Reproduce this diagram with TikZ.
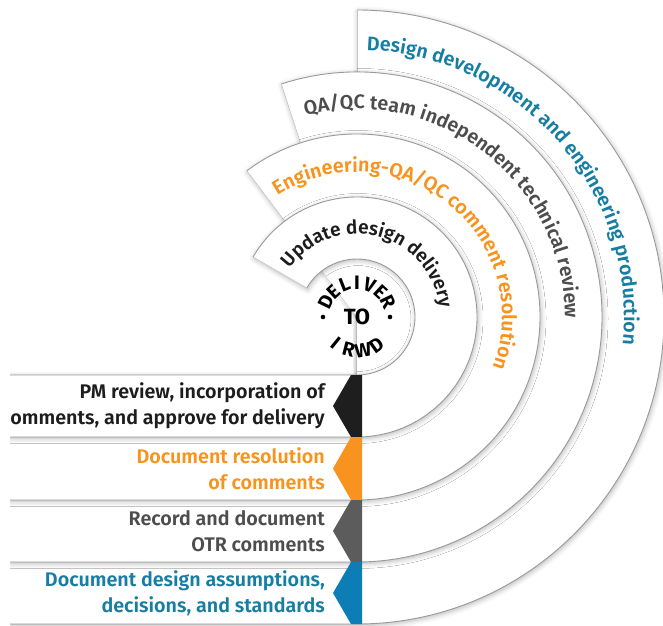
\documentclass[tikz,border=0pt]{standalone}
\usepackage{fontspec}
\setmainfont{Fira Sans}
\newfontfamily\medfont{Fira Sans SemiBold}
\newfontfamily\boldfont{Fira Sans Bold}
\usetikzlibrary{calc,decorations.text,shadows.blur}
\definecolor{dtblue}{HTML}{177EA3}
\definecolor{qagrey}{HTML}{4D4D4D}
\definecolor{engorange}{HTML}{F7931E}
\definecolor{updblack}{HTML}{1D1D1D}
\definecolor{chevblue}{HTML}{0D7DB5}
\definecolor{chevgrey}{HTML}{5C5C5C}
\definecolor{chevblack}{HTML}{1E1E1E}
\definecolor{linegrey}{HTML}{9A9A9A}
\definecolor{edgegrey}{HTML}{C4C4C4}
\tikzset{
  ringfill/.style={fill=white, blur shadow={shadow xshift=1pt, shadow yshift=-1.5pt, shadow blur radius=5pt, shadow opacity=30}},
  ringline/.style={draw=linegrey, line width=0.9pt},
  edgeline/.style={draw=edgegrey, line width=0.6pt},
  rowtext/.style={font=\medfont\fontsize{19.7}{26}\selectfont, align=right, anchor=east, inner sep=0pt},
  dlv/.style={font=\boldfont\fontsize{19.5}{19.5}\selectfont, text=black, inner sep=0pt},
}
\begin{document}
\begin{tikzpicture}[x=1pt,y=1pt]
\useasboundingbox (0,0) rectangle (663,625);
\coordinate (C) at (357,308);
\begin{scope}
\clip (10,0) rectangle (663,625);
% ring 4
\path[ringfill] (C) -- ($(C)+(90:307)$) arc[start angle=90,end angle=-90,radius=307] -- (10,1) -- (10,63) -- (357,63) -- cycle;
\draw[ringline] ($(C)+(90:307)$) arc[start angle=90,end angle=-90,radius=307] -- (10,1);
\draw[edgeline] ($(C)+(90:245)$) -- ($(C)+(90:307)$);
% ring 3
\path[ringfill] (C) -- ($(C)+(108:245)$) arc[start angle=108,end angle=-90,radius=245] -- (10,63) -- (10,125) -- (357,125) -- cycle;
\draw[ringline] ($(C)+(108:245)$) arc[start angle=108,end angle=-90,radius=245] -- (10,63);
\draw[edgeline] ($(C)+(108:183)$) -- ($(C)+(108:245)$);
% ring 2
\path[ringfill] (C) -- ($(C)+(127:183)$) arc[start angle=127,end angle=-90,radius=183] -- (10,125) -- (10,188) -- (357,188) -- cycle;
\draw[ringline] ($(C)+(127:183)$) arc[start angle=127,end angle=-90,radius=183] -- (10,125);
\draw[edgeline] ($(C)+(127:120)$) -- ($(C)+(127:183)$);
% ring 1
\path[ringfill] ($(C)+(150:120)$) arc[start angle=150,end angle=-90,radius=120] -- (10,188) -- (10,250) -- (357,250) arc[start angle=-90,end angle=150,radius=58] -- cycle;
\draw[ringline] ($(C)+(150:120)$) arc[start angle=150,end angle=-90,radius=120] -- (10,188);
\draw[ringline] (10,250) -- (357,250) arc[start angle=-90,end angle=150,radius=58];
\draw[edgeline] ($(C)+(150:58)$) -- ($(C)+(150:120)$);
% chevrons
\fill[chevblack] (362,250) -- (351,250) -- (333,219) -- (351,188) -- (362,188) -- cycle;
\fill[engorange] (362,188) -- (351,188) -- (333,156.5) -- (351,125) -- (362,125) -- cycle;
\fill[chevgrey] (362,125) -- (351,125) -- (333,94) -- (351,63) -- (362,63) -- cycle;
\fill[chevblue] (362,63) -- (351,63) -- (333,32) -- (351,1) -- (362,1) -- cycle;
% row texts
\node[rowtext, text=updblack] (pm) at (325,219) {PM review, incorporation of\\omments, and approve for delivery};
\node[rowtext, text=engorange] (res) at (325,156.5) {Document resolution\\of comments};
\node[rowtext, text=qagrey] (otr) at (325,94) {Record and document\\OTR comments};
\node[rowtext, text=dtblue] (dda) at (325,32) {Document design assumptions,\\decisions, and standards};
\end{scope}
% arc texts
\path[decorate, decoration={text along path, text align=center, text color=dtblue,
  text={|\medfont\fontsize{19.6}{20}\selectfont|Design development and engineering production}}]
  ($(C)+(141:267)$) arc[start angle=141,end angle=-59,radius=267];
\path[decorate, decoration={text along path, text align=center, text color=qagrey,
  text={|\medfont\fontsize{19.6}{20}\selectfont|QA/QC team independent technical review}}]
  ($(C)+(152:208)$) arc[start angle=152,end angle=-48,radius=208];
\path[decorate, decoration={text along path, text align=center, text color=engorange,
  text={|\medfont\fontsize{19.8}{20}\selectfont|Engineering-QA/QC comment resolution}}]
  ($(C)+(175:145)$) arc[start angle=175,end angle=-72,radius=145];
\path[decorate, decoration={text along path, text align=center, text color=updblack,
  text={|\medfont\fontsize{19}{20}\selectfont|Update design delivery}}]
  ($(C)+(175:83)$) arc[start angle=175,end angle=-25,radius=83];
% center badge
\foreach \l [count=\i] in {D,E,L,I,V,E,R} {
  \pgfmathsetmacro\ang{154-(\i-1)*128/6}
  \node[dlv, rotate=\ang-90] (dl\i) at ($(C)+(\ang:34.5)$) {\l};
}
\foreach \l [count=\i] in {I,R,W,D} {
  \pgfmathsetmacro\ang{231+(\i-1)*74/3}
  \node[dlv, rotate=\ang+90] (ir\i) at ($(C)+(\ang:34)$) {\l};
}
\node[dlv, font=\boldfont\fontsize{22}{22}\selectfont] (to) at (C) {TO};
\fill[black] ($(C)+(180:34)$) circle[radius=2.3];
\fill[black] ($(C)+(0:33)$) circle[radius=2.3];
\end{tikzpicture}
\end{document}
